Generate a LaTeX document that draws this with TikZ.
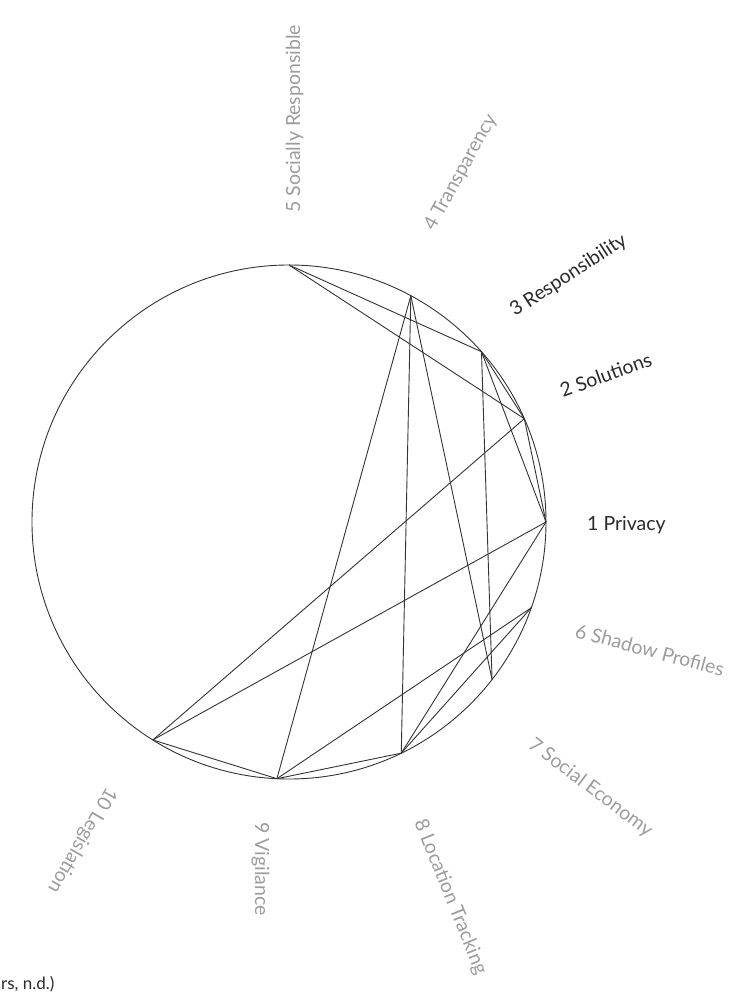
\documentclass[tikz,border=0pt]{standalone}
\usepackage{fontspec}
\setmainfont{Lato}
\usepackage{xcolor}
\definecolor{inkDark}{HTML}{2A2A2A}
\definecolor{inkGray}{HTML}{9C9C9C}
\definecolor{chordInk}{HTML}{333333}

\begin{document}
\begin{tikzpicture}[
  x=1pt, y=1pt,
  font=\fontsize{19.5}{22}\selectfont,
  rim/.style={draw=chordInk, line width=0.9pt},
  chord/.style={draw=chordInk, line width=0.9pt},
  lab/.style={anchor=base west, inner sep=0pt, text=inkDark},
  labfaint/.style={lab, text=inkGray},
]

% ── Frame (reference proportions, origin at circle centre) ─────────
\useasboundingbox (-289,-470) rectangle (465,522);

% ── Ring ───────────────────────────────────────────────────────────
\def\rad{257}
\draw[rim] (0,0) circle (\rad);

% ── Anchor points on the ring ──────────────────────────────────────
\coordinate (privacy)  at (0:\rad);
\coordinate (solution) at (23.7:\rad);
\coordinate (respons)  at (41.5:\rad);
\coordinate (transp)   at (61.7:\rad);
\coordinate (socresp)  at (90:\rad);
\coordinate (shadow)   at (-19.5:\rad);
\coordinate (economy)  at (-37.8:\rad);
\coordinate (location) at (-64.1:\rad);
\coordinate (vigil)    at (-92.7:\rad);
\coordinate (legis)    at (-122:\rad);

% ── Labels (radial) ────────────────────────────────────────────────
\node[lab]                  (lbPrivacy)  at (298,-9)    {1 Privacy};
\node[lab, rotate=20]       (lbSolution) at (274,124)   {2 Solutions};
\node[lab, rotate=33]       (lbRespons)  at (226,205)   {3 Responsibility};
\node[labfaint, rotate=61]  (lbTransp)   at (145,290)   {4 Transparency};
\node[labfaint, rotate=90]  (lbSocresp)  at (11,309)    {5 Socially Responsible};
\node[labfaint, rotate=-15] (lbShadow)   at (285,-115)  {6 Shadow Profiles};
\node[labfaint, rotate=-37] (lbEconomy)  at (238,-225)  {7 Social Economy};
\node[labfaint, rotate=-68] (lbLocation) at (125,-300)  {8 Location Tracking};
\node[labfaint, rotate=-90] (lbVigil)    at (-34,-300)  {9 Vigilance};
\node[labfaint, rotate=-120](lbLegis)    at (-182,-264) {10 Legislation};

% ── Chords ─────────────────────────────────────────────────────────
\draw[chord] (socresp)  -- (respons);
\draw[chord] (socresp)  -- (solution);
\draw[chord] (transp)   -- (vigil);
\draw[chord] (transp)   -- (location);
\draw[chord] (transp)   -- (economy);
\draw[chord] (respons)  -- (economy);
\draw[chord] (respons)  -- (privacy);
\draw[chord] (respons)  -- (solution);
\draw[chord] (solution) -- (privacy);
\draw[chord] (solution) -- (legis);
\draw[chord] (privacy)  -- (legis);
\draw[chord] (privacy)  -- (location);
\draw[chord] (shadow)   -- (location);
\draw[chord] (shadow)   -- (vigil);
\draw[chord] (legis)    -- (vigil);
\draw[chord] (vigil)    -- (location);

% cut-off source line at the foot
\node[anchor=base west, inner sep=0pt, text=inkDark,
      font=\fontsize{17}{20}\selectfont] (source) at (-288,-467) {rs, n.d.)};

\end{tikzpicture}
\end{document}
